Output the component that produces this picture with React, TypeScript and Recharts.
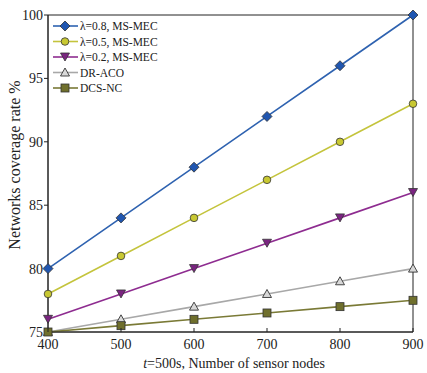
import { LineChart, Line, XAxis, YAxis, ReferenceArea } from 'recharts';

const nodes = [400, 500, 600, 700, 800, 900];
const lambda08 = [80, 84, 88, 92, 96, 100];
const lambda05 = [78, 81, 84, 87, 90, 93];
const lambda02 = [76, 78, 80, 82, 84, 86];
const drAco = [75, 76, 77, 78, 79, 80];
const dcsNc = [75, 75.5, 76, 76.5, 77, 77.5];
const yTicks = [75, 80, 85, 90, 95, 100];

const FONT = '"Liberation Serif", "Times New Roman", serif';

type Shape = 'diamond' | 'circle' | 'triDown' | 'triUp' | 'square';

const series: { key: string; name: string; line: string; fill: string; shape: Shape; values: number[] }[] = [
  { key: 'l08', name: 'λ=0.8, MS-MEC', line: '#2e62b0', fill: '#2056b0', shape: 'diamond', values: lambda08 },
  { key: 'l05', name: 'λ=0.5, MS-MEC', line: '#c4c43c', fill: '#c8c832', shape: 'circle', values: lambda05 },
  { key: 'l02', name: 'λ=0.2, MS-MEC', line: '#8e2c90', fill: '#7a2480', shape: 'triDown', values: lambda02 },
  { key: 'dr', name: 'DR-ACO', line: '#a8a8a8', fill: '#d8d8d8', shape: 'triUp', values: drAco },
  { key: 'dcs', name: 'DCS-NC', line: '#7a7a36', fill: '#6f6f2c', shape: 'square', values: dcsNc },
];

const data = nodes.map((n, i) => {
  const row: Record<string, number> = { n };
  series.forEach((s) => (row[s.key] = s.values[i]));
  return row;
});

function Marker({ shape, cx, cy, fill }: { shape: Shape; cx: number; cy: number; fill: string }) {
  const stroke = '#333';
  switch (shape) {
    case 'diamond':
      return <polygon points={`${cx},${cy - 5} ${cx + 5},${cy} ${cx},${cy + 5} ${cx - 5},${cy}`} fill={fill} stroke={stroke} strokeWidth={0.8} />;
    case 'circle':
      return <circle cx={cx} cy={cy} r={3.8} fill={fill} stroke={stroke} strokeWidth={0.8} />;
    case 'triDown':
      return <polygon points={`${cx - 4.5},${cy - 4} ${cx + 4.5},${cy - 4} ${cx},${cy + 4}`} fill={fill} stroke={stroke} strokeWidth={0.8} />;
    case 'triUp':
      return <polygon points={`${cx - 4.5},${cy + 3.5} ${cx + 4.5},${cy + 3.5} ${cx},${cy - 4.5}`} fill={fill} stroke={stroke} strokeWidth={0.9} />;
    default:
      return <rect x={cx - 4} y={cy - 4} width={8} height={8} fill={fill} stroke={stroke} strokeWidth={0.8} />;
  }
}

// x ticks point into the plot, label sits below the axis
function XTick(props: { x?: number; y?: number; payload?: { value: number } }) {
  const x = props.x ?? 0;
  const y = props.y ?? 0;
  return (
    <g>
      <line x1={x} x2={x} y1={y - 4} y2={y - 8} stroke="#222" />
      <text x={x} y={y + 3} dy="0.71em" textAnchor="middle" fontFamily={FONT} fontSize={14} fill="#222">
        {props.payload?.value}
      </text>
    </g>
  );
}

// legend sits inside the plot, top-left corner
function LegendBox() {
  return (
    <svg width={140} height={90} style={{ position: 'absolute', left: 51, top: 15 }}>
      {series.map((s, i) => {
        const y = 11 + i * 15.5;
        return (
          <g key={s.key}>
            <line x1={2} x2={27} y1={y} y2={y} stroke={s.line} strokeWidth={1.6} />
            <Marker shape={s.shape} cx={14} cy={y} fill={s.fill} />
            <text x={29} y={y + 4} fontFamily={FONT} fontSize={11.5} fill="#222">
              {s.name}
            </text>
          </g>
        );
      })}
    </svg>
  );
}

export default function App() {
  return (
    <div style={{ position: 'absolute', left: 0, top: 0, width: 427, height: 373, background: '#fff' }}>
      <LineChart width={427} height={373} data={data} margin={{ top: 15, right: 14, bottom: 11, left: 8 }}>
        <XAxis
          dataKey="n"
          type="number"
          domain={[400, 900]}
          ticks={nodes}
          height={30}
          axisLine={{ stroke: '#222' }}
          tickLine={false}
          tickSize={4}
          tickMargin={0}
          tick={<XTick />}
        />
        <YAxis
          type="number"
          domain={[75, 100]}
          ticks={yTicks}
          width={40}
          axisLine={{ stroke: '#222' }}
          tickLine={{ stroke: '#222' }}
          tickSize={4}
          tickMargin={1}
          tick={{ fontFamily: FONT, fontSize: 14, fill: '#222' }}
        />
        <ReferenceArea x1={400} x2={900} y1={75} y2={100} fill="none" fillOpacity={0} stroke="#222" strokeWidth={1} />
        {series.map((s) => (
          <Line
            key={s.key}
            dataKey={s.key}
            name={s.name}
            stroke={s.line}
            strokeWidth={1.6}
            isAnimationActive={false}
            dot={(p: { cx?: number; cy?: number; index?: number }) => (
              <Marker key={`${s.key}-${p.index}`} shape={s.shape} cx={p.cx ?? 0} cy={p.cy ?? 0} fill={s.fill} />
            )}
            activeDot={false}
          />
        ))}
      </LineChart>
      <LegendBox />
      <svg width={427} height={373} style={{ position: 'absolute', left: 0, top: 0, pointerEvents: 'none' }}>
        <text x={234} y={368} textAnchor="middle" fontFamily={FONT} fontSize={14} fill="#222">
          <tspan fontStyle="italic">t</tspan>=500s, Number of sensor nodes
        </text>
        <text x={20} y={165} textAnchor="middle" transform="rotate(-90 20 165)" fontFamily={FONT} fontSize={16} fill="#222">
          Networks coverage rate %
        </text>
      </svg>
    </div>
  );
}
